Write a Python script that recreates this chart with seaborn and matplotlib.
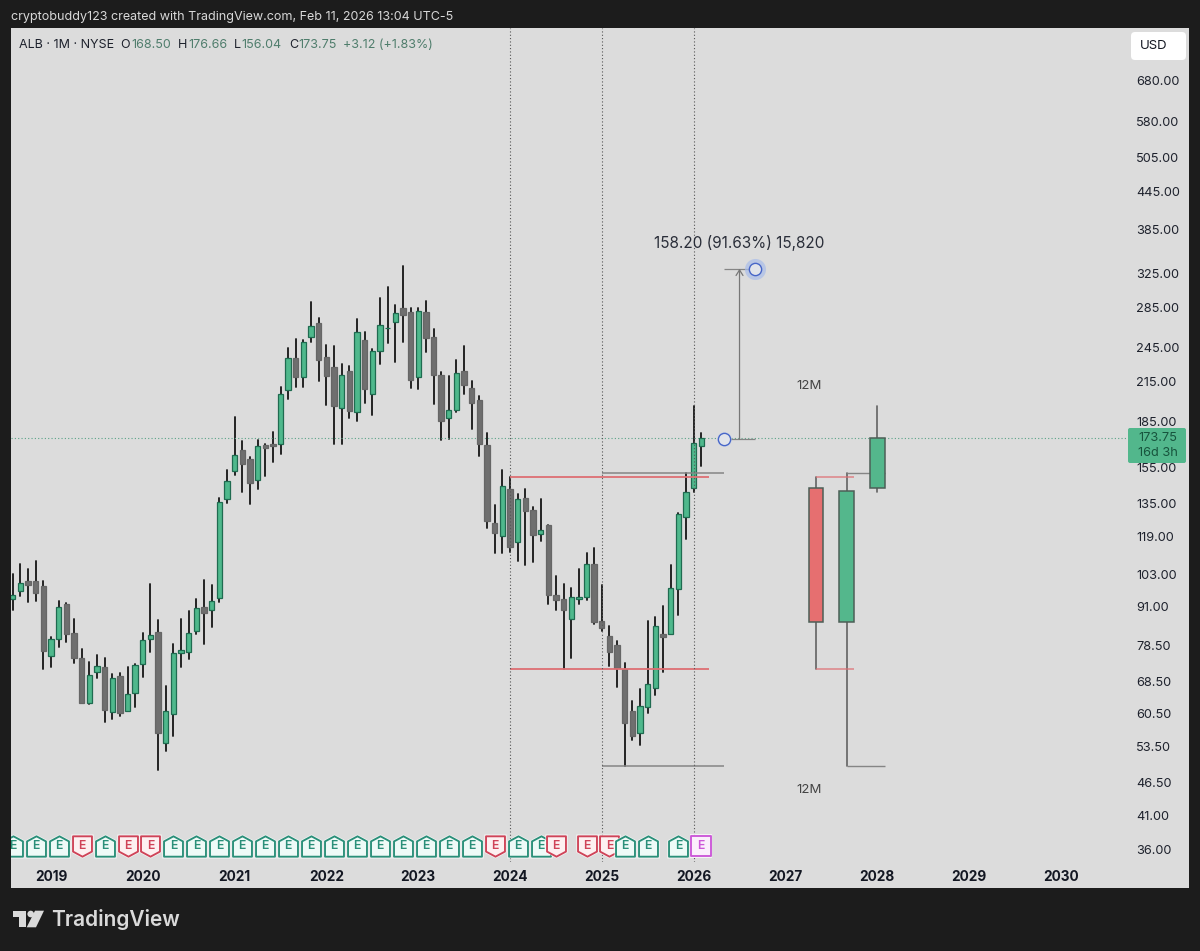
import numpy as np
import pandas as pd
import matplotlib.pyplot as plt
from matplotlib.path import Path
from matplotlib.patches import Rectangle, Polygon, Circle, FancyBboxPatch
from matplotlib.ticker import NullLocator
import seaborn as sns

# ALB monthly candles, month 0 = Jan 2019
months = list(range(-5, 86))
opens = [93.7, 96.7, 100.6, 100.3, 98.4, 75.5, 80.6, 91.9, 82.4, 74.9,
         63.0, 71.1, 72.4, 60.9, 69.8, 61.2, 65.6, 73.3, 80.5, 82.6,
         54.2, 60.4, 76.4, 76.6, 83.0, 91.1, 90.0, 94.2, 137.4, 152.7,
         165.7, 159.9, 147.8, 169.0, 169.4, 169.4, 208.0, 235.7, 219.0, 255.2,
         269.4, 236.3, 227.0, 194.4, 224.0, 191.5, 252.4, 205.4, 242.0, 263.4,
         270.4, 285.0, 280.3, 219.0, 280.3, 254.7, 220.6, 187.0, 193.0, 224.0,
         209.7, 200.3, 168.9, 125.5, 119.4, 142.9, 116.8, 138.0, 131.8, 120.2,
         124.4, 95.2, 93.8, 87.0, 93.8, 94.7, 107.4, 86.2, 81.4, 78.7,
         71.7, 61.2, 56.3, 62.1, 66.7, 82.0, 82.0, 97.5, 128.4, 143.5, 168.5]
highs = [103.1, 107.3, 105.2, 108.6, 100.3, 81.1, 93.1, 92.3, 86.8, 77.4,
         73.8, 75.7, 74.9, 70.5, 70.7, 72.3, 73.1, 82.3, 99.2, 86.6,
         67.3, 79.0, 86.8, 89.5, 93.7, 100.9, 99.0, 137.9, 153.5, 188.1,
         171.5, 161.6, 172.0, 169.5, 177.3, 210.9, 244.2, 253.0, 252.1, 291.5,
         274.0, 246.9, 246.6, 230.0, 228.0, 273.0, 259.9, 243.3, 296.2, 308.5,
         288.0, 334.6, 285.0, 285.0, 293.0, 262.6, 222.9, 220.0, 233.6, 246.5,
         215.5, 203.6, 177.0, 134.5, 153.3, 149.5, 140.3, 142.9, 133.5, 137.4,
         124.4, 102.5, 99.4, 98.0, 105.2, 111.7, 113.8, 99.0, 84.7, 80.0,
         73.4, 63.6, 66.6, 86.2, 87.7, 91.3, 106.9, 130.5, 151.6, 196.0, 176.66]
lows = [90.0, 95.0, 92.6, 93.1, 71.9, 72.4, 78.2, 79.7, 73.4, 63.0,
        62.9, 69.4, 58.6, 59.3, 60.1, 61.1, 62.1, 69.6, 76.5, 48.9,
        52.6, 55.7, 72.3, 74.6, 82.1, 79.0, 84.4, 92.9, 135.4, 150.6,
        141.0, 134.9, 142.9, 150.2, 158.0, 163.2, 201.0, 210.3, 210.3, 250.0,
        215.8, 196.7, 169.7, 169.7, 187.0, 185.1, 198.4, 189.3, 230.0, 249.6,
        231.5, 250.5, 210.2, 208.9, 241.0, 197.5, 172.1, 172.6, 191.5, 204.9,
        179.3, 162.0, 123.2, 111.9, 112.0, 112.3, 108.4, 106.7, 108.1, 117.2,
        92.2, 90.0, 71.8, 75.0, 92.0, 93.5, 85.4, 82.9, 72.7, 67.1,
        49.6, 54.8, 53.8, 60.8, 65.0, 71.1, 82.0, 88.1, 117.8, 141.0, 156.04]
closes = [95.2, 99.6, 99.0, 96.1, 77.0, 80.5, 91.0, 82.0, 74.8, 63.1,
          70.2, 72.7, 61.5, 69.4, 60.6, 65.2, 72.9, 80.1, 81.9, 56.3,
          61.2, 76.2, 77.1, 82.5, 90.8, 89.0, 93.0, 135.9, 147.2, 162.4,
          156.9, 145.8, 168.1, 166.8, 168.0, 205.4, 235.7, 219.0, 250.5, 266.2,
          233.6, 220.0, 195.6, 220.6, 192.3, 259.9, 208.8, 242.0, 267.2, 264.4,
          279.6, 277.8, 216.4, 281.4, 254.0, 220.4, 185.1, 193.0, 222.6, 212.4,
          198.0, 169.4, 126.5, 120.9, 144.6, 114.3, 137.6, 131.4, 119.9, 122.3,
          95.3, 93.5, 90.0, 94.4, 94.4, 107.4, 85.8, 84.0, 76.6, 72.0,
          58.4, 55.6, 62.4, 67.9, 84.7, 81.0, 97.8, 129.6, 141.1, 169.9, 173.75]

# the three drawn 12M candles on the right
proj_months = [100, 104, 108]
proj_opens = [143.3, 86.0, 143.5]
proj_highs = [149.5, 151.9, 196.0]
proj_lows = [71.8, 49.6, 141.0]
proj_closes = [86.0, 141.7, 173.75]
proj_colors = ["#e66f70", "#54b78c", "#54b78c"]

price_ticks = [680, 580, 505, 445, 385, 325, 285, 245, 215, 185, 155, 135, 119,
               103, 91, 78.5, 68.5, 60.5, 53.5, 46.5, 41, 36]
year_ticks = [0, 12, 24, 36, 48, 60, 72, 84, 96, 108, 120, 132]
year_labels = ["2019", "2020", "2021", "2022", "2023", "2024", "2025", "2026",
               "2027", "2028", "2029", "2030"]

earn_months = [-5, -2, 1, 4, 7, 10, 13, 16, 19, 22, 25, 28, 31, 34, 37, 40, 43,
               46, 49, 52, 55, 58, 61, 64, 66, 70, 73, 75, 78, 82, 85]
earn_kinds = ["g", "g", "g", "r", "g", "r", "r", "g", "g", "g", "g", "g", "g", "g", "g", "g", "g",
              "g", "g", "g", "g", "r", "g", "g", "r", "r", "r", "g", "g", "g", "m"]

last_close = 173.75
level_hi_red, level_lo_red = 149.5, 71.8
level_hi_gray, level_lo_gray = 151.9, 49.6
measure_base, measure_top = 172.65, 330.85

BG = "#1c1c1c"
PANEL = "#dcdcdc"
UP = "#4fb88c"
UP_EDGE = "#1f6b50"
DOWN = "#6f6f6f"
DOWN_EDGE = "#666666"
RED_LINE = "#de6f73"
GRAY_LINE = "#858585"

sns.set_style("white")
plt.rcParams["font.family"] = ["Inter", "DejaVu Sans"]

df = pd.DataFrame({"month": months, "open": opens, "high": highs, "low": lows, "close": closes})
up = df[df["close"] >= df["open"]]
down = df[df["close"] < df["open"]]
wicks = df.melt(id_vars="month", value_vars=["high", "low"], value_name="price")
proj = pd.DataFrame({"month": proj_months, "open": proj_opens, "high": proj_highs,
                     "low": proj_lows, "close": proj_closes})
proj_wicks = proj.melt(id_vars="month", value_vars=["high", "low"], value_name="price")

fig = plt.figure(figsize=(12, 9.51), dpi=100, facecolor=BG)

# page furniture, in pixels
chrome = fig.add_axes([0, 0, 1, 1], zorder=0)
chrome.set_xlim(0, 1200)
chrome.set_ylim(951, 0)
chrome.axis("off")
chrome.add_patch(Rectangle((11, 28), 1178, 860, fc=PANEL, ec="none"))
chrome.add_patch(FancyBboxPatch((1133, 34), 51, 24, boxstyle="round,pad=2,rounding_size=4",
                                fc="white", ec="none"))
chrome.text(1153.5, 46, "USD", ha="center", va="center", fontsize=9.5, color="#131722")
chrome.add_patch(FancyBboxPatch((1130, 430), 54, 31, boxstyle="round,pad=2,rounding_size=2",
                                fc="#52b78c", ec="none"))
chrome.text(1158, 438, "173.75", ha="center", va="center", fontsize=9.2, color="#17543d")
chrome.text(1158, 452.5, "16d 3h", ha="center", va="center", fontsize=9.2, color="#17543d")

chrome.text(11, 17, "cryptobuddy123 created with TradingView.com, Feb 11, 2026 13:04 UTC-5",
            va="center", fontsize=9.05, color="#d8d8d8")
legend_dark = "#1e222d"
legend_val = "#4f7d6c"
legend_bits = [(19, "ALB · 1M · NYSE", legend_dark), (120.5, "O", legend_dark), (131, "168.50", legend_val),
               (178, "H", legend_dark), (188, "176.66", legend_val), (234, "L", legend_dark),
               (241.5, "156.04", legend_val), (289, "C", legend_dark), (298.5, "173.75", legend_val),
               (343, "+3.12 (+1.83%)", legend_val)]
for px, txt, col in legend_bits:
    chrome.text(px, 44.5, txt, va="center", fontsize=9.0, color=col)

# logo
logo = "#dadada"
chrome.add_patch(Polygon([(12.7, 910.7), (26, 910.7), (26, 927.3), (19.3, 927.3), (19.3, 916.7), (12.7, 916.7)],
                         fc=logo, ec="none"))
chrome.add_patch(Circle((30.7, 914), 3.3, fc=logo, ec="none"))
chrome.add_patch(Polygon([(35, 910.7), (44, 910.7), (36, 927.3), (26.7, 927.3)], fc=logo, ec="none"))
chrome.text(51, 920, "TradingView", va="center", fontsize=15, fontweight="semibold", color=logo)

# chart
ax = fig.add_axes([11 / 1200, (951 - 862) / 951, 1116 / 1200, 834 / 951], zorder=1)
ax.patch.set_alpha(0)
ax.set_yscale("log")

sns.lineplot(data=wicks, x="month", y="price", units="month", estimator=None, color="#1d1d1d",
             lw=1.35, legend=False, ax=ax, zorder=1)
ax.bar(up["month"], up["close"] - up["open"], bottom=up["open"], width=0.7, color=UP,
       edgecolor=UP_EDGE, linewidth=0.9, zorder=2)
ax.bar(down["month"], down["open"] - down["close"], bottom=down["close"], width=0.7, color=DOWN,
       edgecolor=DOWN_EDGE, linewidth=0.9, zorder=2)

sns.lineplot(data=proj_wicks, x="month", y="price", units="month", estimator=None, color="#626262",
             lw=1.2, legend=False, ax=ax, zorder=1)
ax.hlines([level_hi_red, level_lo_red], 100, 105, color=RED_LINE, lw=1.2, alpha=0.75, zorder=1)
ax.hlines([level_hi_gray, level_lo_gray], 104, 109, color=GRAY_LINE, lw=1.0, zorder=1)
ax.bar(proj["month"], (proj["close"] - proj["open"]).abs(), bottom=proj[["open", "close"]].min(axis=1),
       width=1.95, color=proj_colors, edgecolor="#4d5f57", linewidth=1.1, zorder=2)

ax.hlines([level_hi_red, level_lo_red], 60, 86, color=RED_LINE, lw=1.3, zorder=3)
ax.hlines([level_hi_gray, level_lo_gray], 72, 88, color=GRAY_LINE, lw=1.1, zorder=3)

for m in [60, 72, 84]:
    ax.axvline(m, color="#555555", lw=0.8, ls=(0, (1, 2)), zorder=3)
ax.axhline(last_close, color="#5aa387", lw=0.8, ls=(0, (1, 2)), zorder=1)

# measure tool
ax.hlines(measure_base, 88, 92, color=GRAY_LINE, lw=0.9, zorder=3)
ax.hlines(measure_top, 88, 92, color=GRAY_LINE, lw=0.9, zorder=3)
ax.annotate("", xy=(90, measure_top), xytext=(90, measure_base),
            arrowprops=dict(arrowstyle="->,head_length=0.4,head_width=0.25", color="#777777", lw=0.9,
                            shrinkA=0, shrinkB=0), zorder=3)
ax.scatter([92], [measure_top], s=230, color="#a9bdea", alpha=0.7, linewidths=0, zorder=4)
ax.scatter([88], [measure_base], s=115, color="#c9d4ee", alpha=0.6, linewidths=0, zorder=4)
ax.scatter([88, 92], [measure_base, measure_top], s=78, facecolor="#e1e4ea", edgecolor="#4766c8",
           linewidths=1.0, zorder=5)
ax.text(90, 365, "158.20 (91.63%) 15,820", ha="center", va="center", fontsize=11, color="#2a2e39")

ax.text(99.1, 211.5, "12M", ha="center", va="center", fontsize=9.5, color="#444444")
ax.text(99.1, 45.3, "12M", ha="center", va="center", fontsize=9.5, color="#444444")

# earnings flags
house_up = Path([(-0.93, -1), (0.93, -1), (0.93, 0.5), (0, 1), (-0.93, 0.5), (-0.93, -1)], closed=True)
house_down = Path([(-0.93, 1), (0.93, 1), (0.93, -0.5), (0, -1), (-0.93, -0.5), (-0.93, 1)], closed=True)
box = Path([(-0.9, -0.95), (0.9, -0.95), (0.9, 0.95), (-0.9, 0.95), (-0.9, -0.95)], closed=True)
flag_style = {"g": (house_up, "#eefaf7", "#2a8f79"), "r": (house_down, "#fdf0f1", "#cf4358"),
              "m": (box, "#fbeefc", "#cc57d8")}
flag_price = 36.6
for m, kind in zip(earn_months, earn_kinds):
    marker, fill, edge = flag_style[kind]
    ax.scatter([m], [flag_price], marker=marker, s=300, facecolor="white", edgecolor="white",
               linewidths=0, alpha=0.7, zorder=4)
    ax.scatter([m], [flag_price], marker=marker, s=215, facecolor=fill, edgecolor=edge,
               linewidths=1.35, joinstyle="round", zorder=4)
    ax.text(m, flag_price, "E", ha="center", va="center", fontsize=8.8, fontweight="semibold",
            color=edge, zorder=4, clip_on=True)

ax.set_xlim(-5.23, 140.65)
ax.set_ylim(34.38, 829.3)
ax.yaxis.tick_right()
ax.set_yticks(price_ticks, [f"{p:.2f}" for p in price_ticks])
ax.yaxis.set_minor_locator(NullLocator())
ax.set_xticks(year_ticks, year_labels)
ax.tick_params(axis="y", length=0, pad=6.6, labelsize=9.2, labelcolor="#1e222d")
ax.tick_params(axis="x", length=0, pad=5.5, labelsize=9.8, labelcolor="#131722")
for lab in ax.get_xticklabels():
    lab.set_fontweight("bold")
ax.set_xlabel("")
ax.set_ylabel("")
sns.despine(ax=ax, left=True, bottom=True, right=True, top=True)
ax.grid(False)

fig.savefig("out.png", dpi=100, facecolor=BG)
